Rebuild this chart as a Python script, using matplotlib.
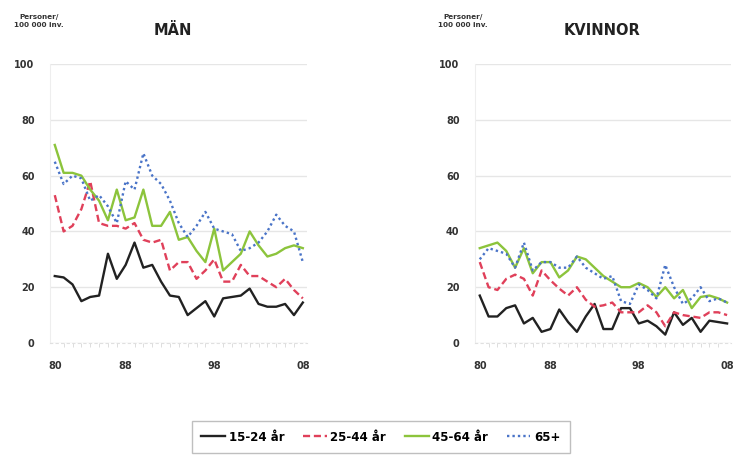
import matplotlib
matplotlib.use('Agg')
import matplotlib.pyplot as plt
from matplotlib.lines import Line2D

# år 1980-2008, personer per 100 000 inv.
YEARS = list(range(1980, 2009))
TICK_YEARS = [1980, 1988, 1998, 2008]
TICK_LABELS = ["80", "88", "98", "08"]

SERIES = ["15-24 år", "25-44 år", "45-64 år", "65+"]

MAN_15_24 = [24, 23.5, 21, 15, 16.5, 17, 32, 23, 28, 36, 27, 28, 22, 17, 16.5,
             10, 12.5, 15, 9.5, 16, 16.5, 17, 19.5, 14, 13, 13, 14, 10, 14.5]
MAN_25_44 = [53, 40, 42, 48, 58, 43, 42, 42, 41, 43, 37, 36, 37, 26, 29,
             29, 23, 26, 30, 22, 22, 28, 24, 24, 22, 20, 23, 19, 16]
MAN_45_64 = [71, 61, 61, 60, 55, 51, 44, 55, 44, 45, 55, 42, 42, 47, 37,
             38, 33, 29, 41, 26, 29, 32, 40, 35, 31, 32, 34, 35, 34]
MAN_65 = [65, 57, 60, 59, 51, 53, 49, 43, 58, 55, 68, 60, 57, 51, 43,
          38, 42, 47, 41, 40, 39, 33, 34, 36, 40, 46, 42, 40, 29]

KV_15_24 = [17, 9.5, 9.5, 12.5, 13.5, 7, 9, 4, 5, 12, 7.5, 4, 9.5, 14, 5,
            5, 12.5, 12.5, 7, 8, 6, 3, 11, 6.5, 9, 4, 8, 7.5, 7]
KV_25_44 = [29, 20, 19, 23, 24.5, 23, 17, 26, 22.5, 19.5, 17, 20, 15.5, 13, 13.5,
            14.5, 11, 11, 11, 13.5, 11, 6, 11, 10, 9.5, 9, 11, 11, 10]
KV_45_64 = [34, 35, 36, 33, 27, 34, 25, 29, 29, 23.5, 26, 31, 30, 27, 24,
            22, 20, 20, 21.5, 20, 16.5, 20, 16, 19, 12.5, 16.5, 17, 16, 14.5]
KV_65 = [30, 34, 33, 32, 27, 36, 26, 29, 29, 27, 27, 31, 27, 25, 23,
         24, 15, 14, 21, 19, 16, 28, 20, 14, 16, 20, 15, 16, 14.5]

STYLES = [
    ("#222222", "-", 1.7),
    ("#e0405a", (0, (3, 1.6)), 1.7),
    ("#8cc43c", "-", 1.7),
    ("#4a74c8", (0, (1, 1.3)), 1.7),
]

fig = plt.figure(figsize=(7.34, 4.61), dpi=100)


def panel(rect, data, title, title_x, head_x):
    ax = fig.add_axes(rect)
    for vals, (color, ls, lw) in zip(data, STYLES):
        ax.plot(YEARS, vals, color=color, linestyle=ls, linewidth=lw)
    ax.set_ylim(0, 100)
    ax.set_xlim(1979.45, 2008.45)
    ax.set_yticks([0, 20, 40, 60, 80, 100])
    ax.set_xticks(TICK_YEARS)
    ax.set_xticklabels(TICK_LABELS)
    ax.set_xticks(YEARS, minor=True)
    ax.grid(axis="y", color="#e6e6e6", linewidth=1)
    ax.tick_params(axis="y", length=0, pad=11, labelsize=7, labelcolor="#333333")
    ax.tick_params(axis="x", which="major", length=0, pad=13, labelsize=7,
                   labelcolor="#333333")
    ax.tick_params(axis="x", which="minor", length=3, color="#d8d8d8")
    for lab in ax.get_xticklabels() + ax.get_yticklabels():
        lab.set_fontweight("bold")
    for s in ["top", "right"]:
        ax.spines[s].set_visible(False)
    ax.spines["left"].set_color("#eeeeee")
    ax.spines["bottom"].set_color("#e0e0e0")
    ax.spines["bottom"].set_linestyle((0, (2, 3)))
    ax.set_axisbelow(True)
    fig.text(title_x, 0.933, title, ha="center", va="center", fontsize=10.5,
             fontweight="bold", color="#222222")
    fig.text(head_x, 0.955, "Personer/\n100 000 inv.", ha="center", va="center",
             fontsize=5.2, fontweight="bold", color="#333333", linespacing=1.4)
    return ax


panel([0.068, 0.256, 0.35, 0.605], [MAN_15_24, MAN_25_44, MAN_45_64, MAN_65],
      "MÄN", 0.236, 0.053)
panel([0.647, 0.256, 0.349, 0.605], [KV_15_24, KV_25_44, KV_45_64, KV_65],
      "KVINNOR", 0.82, 0.631)

handles = [Line2D([], [], color=c, linestyle=ls, linewidth=lw) for c, ls, lw in STYLES]
leg = fig.legend(handles, SERIES, loc="center", bbox_to_anchor=(0.519, 0.052),
                 ncol=4, frameon=True, fancybox=False, handlelength=2.0,
                 handletextpad=0.3, columnspacing=1.6, borderpad=0.8,
                 prop={"weight": "bold", "size": 8.5})
leg.get_frame().set_edgecolor("#b0b0b0")
leg.get_frame().set_linewidth(1.0)

fig.savefig("out.png", dpi=100)
